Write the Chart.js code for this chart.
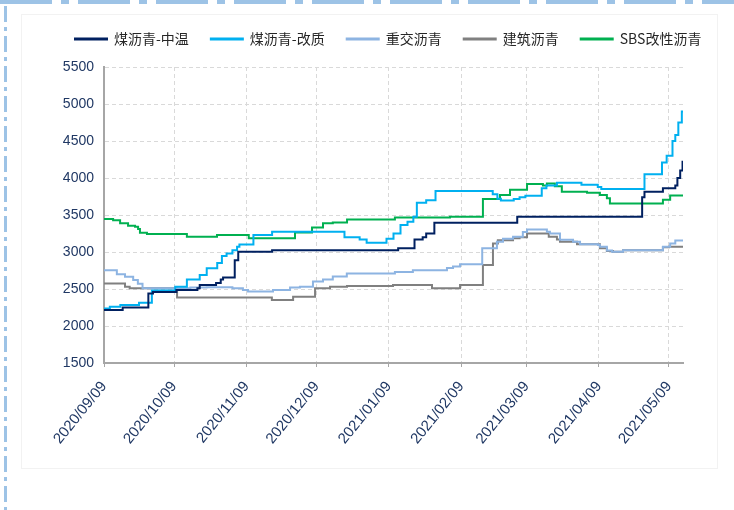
<!DOCTYPE html>
<html>
<head>
<meta charset="utf-8">
<script src="https://cdn.jsdelivr.net/npm/chart.js@4.4.0/dist/chart.umd.min.js"></script>
<style>
  html, body { margin: 0; padding: 0; background: #fff; }
</style>
</head>
<body>
<canvas id="myCanvas" width="734" height="510"></canvas>
<script>
// x = days counted from 2020/09/09
var monthDays = [0, 30, 61, 91, 122, 153, 181, 212, 242];
var tickLabels = ['2020/09/09', '2020/10/09', '2020/11/09', '2020/12/09', '2021/01/09',
                  '2021/02/09', '2021/03/09', '2021/04/09', '2021/05/09'];
var seriesNames = ['煤沥青-中温', '煤沥青-改质', '重交沥青', '建筑沥青', 'SBS改性沥青'];
var seriesColors = ['#002060', '#00b0f0', '#8db4e2', '#808080', '#00b050'];

// each series: day where a price level starts, and that price (yuan/t)
var zwDays = [0, 8, 19, 21, 31, 40, 41, 48, 50, 51, 56, 57.5, 72, 126, 133, 136.5, 138, 141.5, 177,
              230.5, 231.5, 239.4, 244.7, 245.6, 246.8, 247.8, 248];
var zwVals = [2215, 2250, 2440, 2460, 2485, 2510, 2555, 2580, 2630, 2655, 2890, 3005, 3025, 3050, 3170, 3200, 3250, 3395, 3475,
              3740, 3815, 3860, 3900, 4000, 4100, 4220, 4220];

var gzDays = [0, 2.5, 7, 15, 20.5, 30.5, 35.5, 41, 44, 48.5, 50.5, 52.5, 55, 57, 58, 64, 72, 103, 109.5, 112.5,
              121, 124, 127, 130, 132.5, 134, 138, 142, 166.5, 168.5, 170, 175.5, 178, 180.5, 187.5,
              189.5, 194, 204.5, 211.5, 213, 231.5, 239, 241, 243.5, 244.7, 246, 247.5, 248];
var gzVals = [2235, 2260, 2285, 2315, 2480, 2530, 2630, 2690, 2780, 2850, 2945, 2980, 3025, 3070, 3100, 3230, 3275, 3200, 3170, 3125,
              3180, 3250, 3365, 3410, 3475, 3665, 3700, 3825, 3780, 3720, 3695, 3715, 3740, 3760, 3860,
              3900, 3935, 3910, 3880, 3850, 4050, 4210, 4300, 4500, 4580, 4750, 4900, 4900];

var zjDays = [0, 5.5, 9, 12.5, 14.5, 16.5, 37, 44, 55, 59.5, 61.7, 72.4, 79.7, 83.9, 89.5, 93.8, 98, 104, 124.6, 132.3,
              146.9, 149.5, 152.5, 162, 168.3, 170.9, 175.2, 179.4, 181.2, 189.7, 191, 195.3, 200.9, 203.9, 211.6,
              212.4, 215.4, 217.6, 222.3, 239.4, 242.5, 244.7, 248];
var zjVals = [2755, 2700, 2665, 2620, 2570, 2510, 2520, 2525, 2510, 2485, 2465, 2485, 2520, 2530, 2600, 2630, 2670, 2710, 2730, 2755,
              2785, 2805, 2835, 3050, 3140, 3180, 3205, 3270, 3305, 3275, 3250, 3165, 3140, 3105, 3095,
              3070, 3020, 3005, 3025, 3070, 3115, 3155, 3155];

var jzDays = [0, 9, 11, 31.3, 71.9, 81, 90.4, 96.8, 104.1, 123.8, 140.5, 152.5, 162.3, 166.6, 168.7,
              175.2, 178, 181.2, 190.5, 194, 195.3, 202.6, 212.4, 215.4, 218, 222.3, 239.4, 242, 248];
var jzVals = [2575, 2530, 2510, 2385, 2350, 2395, 2510, 2530, 2540, 2555, 2510, 2555, 2825, 3115, 3160,
              3185, 3200, 3250, 3205, 3170, 3140, 3105, 3050, 3015, 3005, 3025, 3063, 3072, 3072];

var sbsDays = [0, 3.9, 6.9, 10.3, 13.3, 14.6, 15.4, 18.4, 35.5, 48.4, 62, 81.8, 89.1, 93.8, 98, 104.1, 124.6,
               148.2, 162.3, 169.6, 173.9, 181.2, 188, 189.7, 193.1, 196.1, 206.9, 212.4, 215.4, 216.7, 239.4, 242.5, 248];
var sbsVals = [3445, 3430, 3390, 3355, 3340, 3310, 3260, 3243, 3207, 3230, 3185, 3265, 3330, 3390, 3400, 3440, 3465,
               3477, 3715, 3770, 3840, 3920, 3900, 3925, 3890, 3815, 3800, 3770, 3725, 3655, 3705, 3765, 3765];

var allDays = [zwDays, gzDays, zjDays, jzDays, sbsDays];
var allVals = [zwVals, gzVals, zjVals, jzVals, sbsVals];

function points(days, vals){
    return days.map(function(d, i){ return {x: d, y: vals[i]}; });
}

var datasets = seriesNames.map(function(name, i){
    return {
        label: name,
        data: points(allDays[i], allVals[i]),
        borderColor: seriesColors[i],
        backgroundColor: seriesColors[i],
        borderWidth: 2,
        pointRadius: 0,
        stepped: true
    };
});

// page frame: dashed blue edge top/left, faint box
var framePlugin = {
    id: 'frame',
    beforeDraw: function(chart){
        var ctx = chart.ctx;
        ctx.save();
        ctx.fillStyle = '#ffffff';
        ctx.fillRect(0, 0, chart.width, chart.height);
        ctx.strokeStyle = '#f2f2f2';
        ctx.lineWidth = 1;
        ctx.strokeRect(21.5, 14.5, 696, 454);
        ctx.strokeStyle = '#9dc3e6';
        ctx.lineWidth = 4;
        ctx.setLineDash([52, 9, 8, 9]);
        ctx.beginPath(); ctx.moveTo(0, 2); ctx.lineTo(734, 2); ctx.stroke();
        ctx.lineWidth = 3;
        ctx.setLineDash([16, 5, 4, 5]);
        ctx.beginPath(); ctx.moveTo(5.5, 6); ctx.lineTo(5.5, 510); ctx.stroke();
        ctx.restore();
    }
};

// fixed legend height and position
var legendPlugin = {
    id: 'legendFix',
    beforeInit: function(chart){
        var fit = chart.legend.fit;
        chart.legend.fit = function(){
            this.maxWidth = 2000;
            fit.bind(chart.legend)();
            this.height = 57;
        };
    },
    afterLayout: function(chart){
        chart.legend.left = 53;
        chart.legend.right = 734;
    }
};

var axisColor = '#a6a6a6';
var gridColor = '#d9d9d9';

var ctx = document.getElementById('myCanvas').getContext('2d');
var myChart = new Chart(ctx, {
    type: 'line',
    data: { datasets: datasets },
    plugins: [framePlugin, legendPlugin],
    options: {
        responsive: false,
        animation: false,
        layout: { padding: { left: 0, right: 51, top: 10, bottom: 0 } },
        plugins: {
            tooltip: { enabled: false },
            legend: {
                position: 'top',
                align: 'start',
                labels: {
                    boxWidth: 32,
                    boxHeight: 1,
                    padding: 22,
                    color: '#262626',
                    font: { family: "'Noto Sans CJK SC', sans-serif", size: 14 }
                }
            }
        },
        scales: {
            x: {
                type: 'linear',
                min: 0,
                max: 248,
                afterBuildTicks: function(axis){
                    axis.ticks = monthDays.map(function(v){ return {value: v}; });
                },
                afterFit: function(axis){ axis.height = 147; },
                ticks: {
                    autoSkip: false,
                    minRotation: 51,
                    maxRotation: 51,
                    padding: 11,
                    color: '#203864',
                    font: {family: "'Liberation Sans', Arial, sans-serif", size: 15},
                    callback: function(v){ return tickLabels[monthDays.indexOf(v)]; }
                },
                grid: {
                    color: gridColor,
                    drawTicks: true,
                    tickLength: 4,
                    tickColor: axisColor,
                    tickBorderDash: []
                },
                border: { display: true, color: axisColor, width: 2, dash: [4, 3] }
            },
            y: {
                min: 1500,
                max: 5500,
                afterFit: function(axis){ axis.width = 104; },
                ticks: {
                    stepSize: 500,
                    padding: 10,
                    color: '#203864',
                    font: {family: "'Liberation Sans Narrow', 'Liberation Sans', Arial, sans-serif", size: 14},
                    callback: function(v){ return String(v); }
                },
                grid: { color: gridColor, drawTicks: false },
                border: { display: true, color: axisColor, width: 2, dash: [4, 3] }
            }
        }
    }
});
</script>
</body>
</html>
